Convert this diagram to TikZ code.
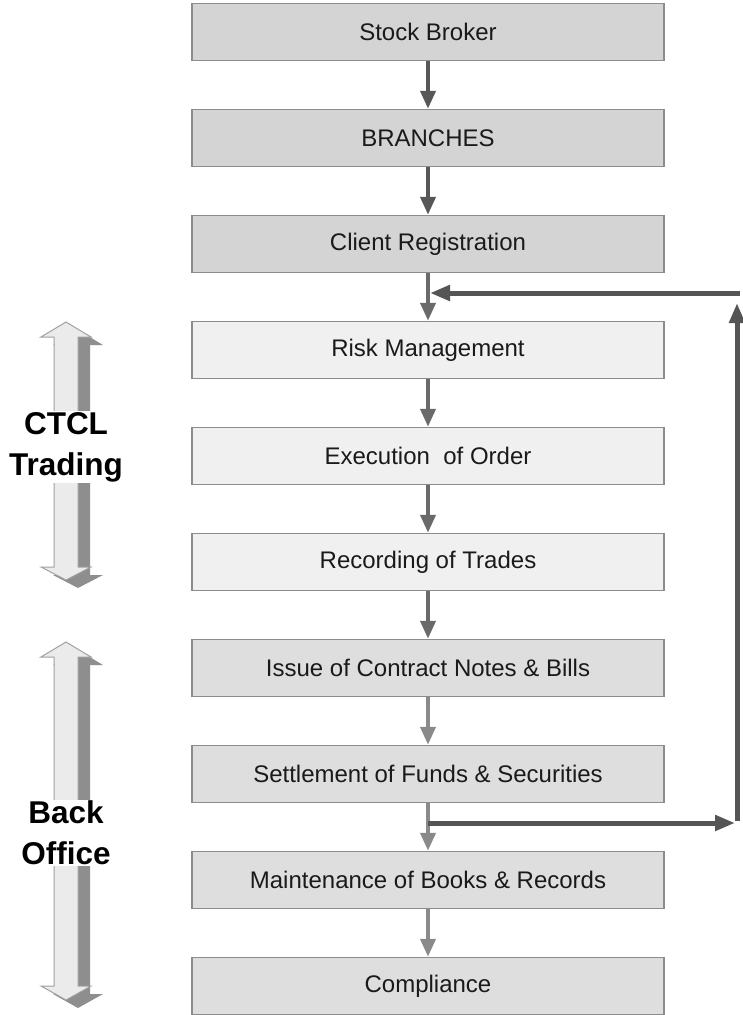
\documentclass[tikz,border=0pt]{standalone}
\usepackage{fontspec}
\setmainfont{Liberation Sans}
\usetikzlibrary{arrows.meta}
\definecolor{topfill}{HTML}{D4D4D4}
\definecolor{ctclfill}{HTML}{F0F0F0}
\definecolor{bofill}{HTML}{DEDEDE}
\definecolor{boxline}{HTML}{8C8C8C}
\definecolor{darkarrow}{HTML}{575757}
\definecolor{midarrow}{HTML}{6A6A6A}
\definecolor{lightarrow}{HTML}{8A8A8A}
\definecolor{loopcol}{HTML}{555555}
\definecolor{bigfront}{HTML}{EBEBEB}
\definecolor{bigside}{HTML}{8E8E8E}
\definecolor{bigline}{HTML}{A0A0A0}
\definecolor{txt}{HTML}{1A1A1A}
\begin{document}
\begin{tikzpicture}[x=1pt,y=-1pt,
  stepbox/.style={draw=boxline, line width=1.5pt, minimum width=472pt, minimum height=57pt,
    inner sep=0pt, text=txt, font=\fontsize{24}{29}\selectfont},
  topbox/.style={stepbox, fill=topfill},
  ctclbox/.style={stepbox, fill=ctclfill},
  bobox/.style={stepbox, fill=bofill},
  flow/.style={line width=4pt, -{Triangle[length=18pt,width=15pt]}},
  loopline/.style={line width=5pt, draw=loopcol},
  looparrow/.style={loopline, -{Triangle[length=20pt,width=15pt]}},
  sidelabel/.style={fill=white, inner sep=1pt, align=center, text=black,
    font=\fontsize{31.5}{41}\selectfont\bfseries},
  bigfrontstyle/.style={fill=bigfront, draw=bigline, line width=1pt},
  bigsidestyle/.style={fill=bigside, draw=none}
]
\useasboundingbox (0,0) rectangle (742,1015);
\fill[white] (0,0) rectangle (742,1015);

% main boxes
\node[topbox]  (sb)  at (428,32)  {Stock Broker};
\node[topbox]  (br)  at (428,138) {BRANCHES};
\node[topbox]  (cr)  at (428,244) {Client Registration};
\node[ctclbox] (rm)  at (428,350) {Risk Management};
\node[ctclbox] (eo)  at (428,456) {Execution\ \ of Order};
\node[ctclbox] (rt)  at (428,562) {Recording of Trades};
\node[bobox]   (ic)  at (428,668) {Issue of Contract Notes \& Bills};
\node[bobox]   (sf)  at (428,774) {Settlement of Funds \& Securities};
\node[bobox]   (mb)  at (428,880) {Maintenance of Books \& Records};
\node[bobox]   (co)  at (428,986) {Compliance};

% flow arrows
\draw[flow, darkarrow]  (sb.south) -- (br.north);
\draw[flow, darkarrow]  (br.south) -- (cr.north);
\draw[flow, midarrow]   (cr.south) -- (rm.north);
\draw[flow, midarrow]   (rm.south) -- (eo.north);
\draw[flow, midarrow]   (eo.south) -- (rt.north);
\draw[flow, midarrow]   (rt.south) -- (ic.north);
\draw[flow, lightarrow] (ic.south) -- (sf.north);
\draw[flow, lightarrow] (sf.south) -- (mb.north);
\draw[flow, lightarrow] (mb.south) -- (co.north);

% feedback loop
\coordinate (lb) at (428,823);
\coordinate (rb) at (737,823);
\coordinate (rbend) at (735,823);
\coordinate (rt2) at (737,293);
\coordinate (rtop) at (737,303);
\coordinate (lt) at (430,293);
\draw[looparrow] (lb) -- (rbend);
\draw[looparrow] ([yshift=2.5pt]rb) -- (rtop);
\draw[looparrow] ([xshift=2.5pt]rt2) -- (lt);

% CTCL big double arrow
\begin{scope}[shift={(12,8)}]
\fill[bigsidestyle] (66,322) -- (91,337) -- (78,337) -- (78,567) -- (91,567) -- (66,580)
  -- (41,567) -- (54,567) -- (54,337) -- (41,337) -- cycle;
\end{scope}
\filldraw[bigfrontstyle] (66,322) -- (91,337) -- (78,337) -- (78,567) -- (91,567) -- (66,580)
  -- (41,567) -- (54,567) -- (54,337) -- (41,337) -- cycle;
\node[sidelabel] (ctcl) at (66,447) {CTCL\\Trading};

% Back Office big double arrow
\begin{scope}[shift={(12,8)}]
\fill[bigsidestyle] (66,642) -- (91,657) -- (78,657) -- (78,986) -- (91,986) -- (66,1000)
  -- (41,986) -- (54,986) -- (54,657) -- (41,657) -- cycle;
\end{scope}
\filldraw[bigfrontstyle] (66,642) -- (91,657) -- (78,657) -- (78,986) -- (91,986) -- (66,1000)
  -- (41,986) -- (54,986) -- (54,657) -- (41,657) -- cycle;
\node[sidelabel] (bo) at (66,833) {Back\\Office};
\end{tikzpicture}
\end{document}
